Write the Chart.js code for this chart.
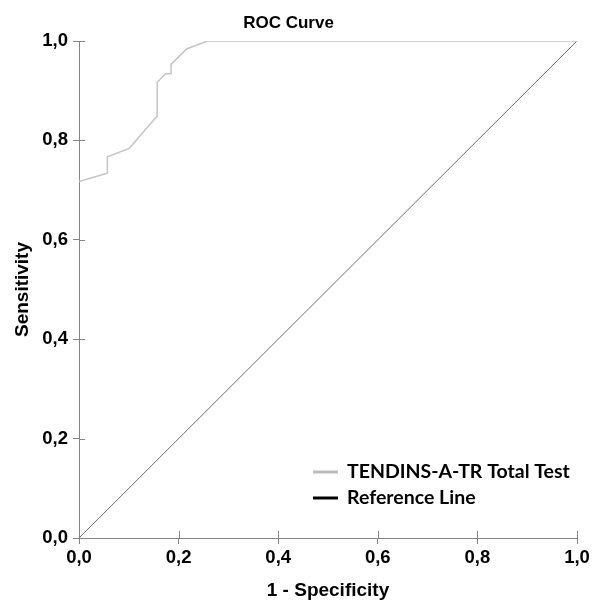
<!DOCTYPE html>
<html>
<head>
<meta charset="utf-8">
<script src="https://cdn.jsdelivr.net/npm/chart.js@4"></script>
<style>
  html, body { margin: 0; padding: 0; background: #fff; }
  #wrap { width: 592px; height: 603px; }
</style>
</head>
<body>
<div id="wrap"><canvas id="roc" width="592" height="603"></canvas></div>
<script>
// ROC curve points (1 - specificity, sensitivity)
const rocX = [0.000, 0.057, 0.057, 0.101, 0.157, 0.157, 0.174, 0.185, 0.185, 0.216, 0.258, 1.000];
const rocY = [0.717, 0.734, 0.767, 0.784, 0.849, 0.917, 0.934, 0.934, 0.953, 0.984, 1.000, 1.000];
const refX = [0, 1];
const refY = [0, 1];
const tickValues = [0, 0.2, 0.4, 0.6, 0.8, 1.0];
const seriesNames = ["TENDINS-A-TR Total Test", "Reference Line"];

const fmt = v => v.toFixed(1).replace(".", ",");
const axisColor = "#858585";

// inner half of the tick marks (outer half comes from the grid), plus the legend
const extras = {
  id: "extras",
  afterDatasetsDraw(chart) {
    const ctx = chart.ctx;
    const xs = chart.scales.x, ys = chart.scales.y;
    const area = chart.chartArea;
    ctx.save();
    ctx.strokeStyle = axisColor;
    ctx.lineWidth = 1;
    tickValues.forEach(v => {
      const px = Math.round(xs.getPixelForValue(v)) + 0.5;
      ctx.beginPath();
      ctx.moveTo(px, area.bottom);
      ctx.lineTo(px, area.bottom - 7);
      ctx.stroke();
      const py = Math.round(ys.getPixelForValue(v)) + 0.5;
      ctx.beginPath();
      ctx.moveTo(area.left, py);
      ctx.lineTo(area.left + 6, py);
      ctx.stroke();
    });

    // legend
    const swatch = ["#bdbdbd", "#000000"];
    ctx.font = "bold 19.5px Lato";
    ctx.textBaseline = "middle";
    ctx.fillStyle = "#000";
    seriesNames.forEach((name, i) => {
      const y = 472 + i * 26;
      ctx.strokeStyle = swatch[i];
      ctx.lineWidth = 3;
      ctx.beginPath();
      ctx.moveTo(313, y);
      ctx.lineTo(338, y);
      ctx.stroke();
      ctx.fillText(name, 347, y);
    });
    ctx.restore();
  }
};

const tickGrid = {
  display: true,
  drawOnChartArea: false,
  drawTicks: true,
  tickLength: 6,
  tickColor: axisColor,
  tickWidth: 1
};

new Chart(document.getElementById("roc"), {
  type: "scatter",
  data: {
    datasets: [
      {
        label: seriesNames[0],
        data: rocX.map((x, i) => ({ x: x, y: rocY[i] })),
        showLine: true,
        borderColor: "#c4c4c4",
        borderWidth: 1.5,
        pointRadius: 0,
        tension: 0
      },
      {
        label: seriesNames[1],
        data: refX.map((x, i) => ({ x: x, y: refY[i] })),
        showLine: true,
        borderColor: "#6e6e6e",
        borderWidth: 1,
        pointRadius: 0,
        tension: 0
      }
    ]
  },
  options: {
    responsive: false,
    animation: false,
    layout: { padding: { left: 0, right: 15, top: 0, bottom: 0 } },
    plugins: {
      legend: { display: false },
      tooltip: { enabled: false },
      title: {
        display: true,
        text: "ROC Curve",
        color: "#000",
        font: { family: "Liberation Sans", size: 17, weight: "bold" },
        padding: { top: 13, bottom: 7.6 }
      }
    },
    scales: {
      x: {
        type: "linear",
        min: 0,
        max: 1,
        afterFit: s => { s.height = 65; s.paddingLeft = 0; s.paddingRight = 0; },
        afterBuildTicks: s => { s.ticks = tickValues.map(v => ({ value: v })); },
        grid: tickGrid,
        border: { display: true, color: axisColor, width: 1 },
        ticks: {
          padding: 3,
          color: "#000",
          maxRotation: 0,
          font: { family: "Liberation Sans", size: 18.5, weight: "bold" },
          callback: v => fmt(v)
        },
        title: {
          display: true,
          text: "1 - Specificity",
          color: "#000",
          font: { family: "Liberation Sans", size: 19, weight: "bold" },
          padding: { top: 0, bottom: 1 }
        }
      },
      y: {
        type: "linear",
        min: 0,
        max: 1,
        afterFit: s => { s.width = 79; s.paddingTop = 0; s.paddingBottom = 0; },
        afterBuildTicks: s => { s.ticks = tickValues.map(v => ({ value: v })); },
        grid: tickGrid,
        border: { display: true, color: axisColor, width: 1 },
        ticks: {
          padding: 5,
          color: "#000",
          font: { family: "Liberation Sans", size: 18.5, weight: "bold" },
          callback: v => fmt(v)
        },
        title: {
          display: true,
          text: "Sensitivity",
          color: "#000",
          font: { family: "Liberation Sans", size: 19, weight: "bold" },
          padding: { top: 11, bottom: 0 }
        }
      }
    }
  },
  plugins: [extras]
});
</script>
</body>
</html>
